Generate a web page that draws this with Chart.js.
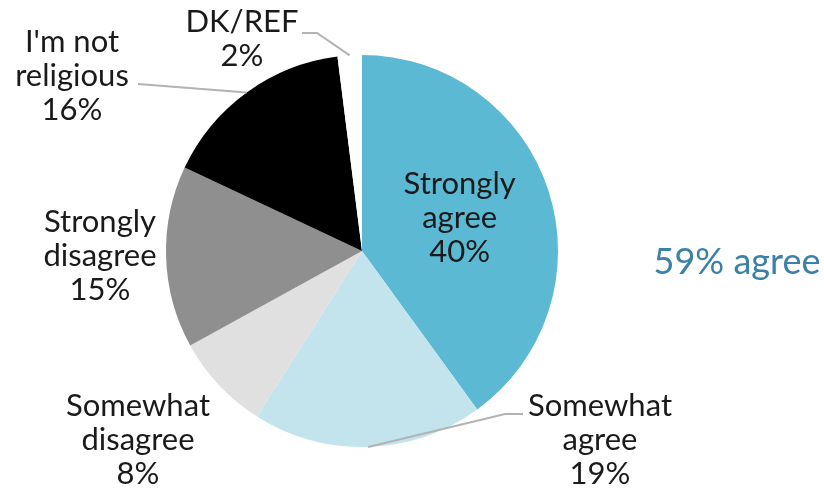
<!DOCTYPE html>
<html>
<head>
<meta charset="utf-8">
<script src="https://cdn.jsdelivr.net/npm/chart.js@4"></script>
<style>
  html, body { margin: 0; padding: 0; background: #fff; }
  #wrap { width: 824px; height: 492px; position: relative; }
</style>
</head>
<body>
<div id="wrap"><canvas id="c" width="824" height="492"></canvas></div>
<script>
const categories = ["Strongly agree", "Somewhat agree", "Somewhat disagree", "Strongly disagree", "I'm not religious", "DK/REF"];
const labelLines = [["Strongly", "agree"], ["Somewhat", "agree"], ["Somewhat", "disagree"], ["Strongly", "disagree"], ["I'm not", "religious"], ["DK/REF"]];
const values = [40, 19, 8, 15, 16, 2];
const summaryText = "59% agree";

const colors = ["#5bb9d3", "#c3e4ed", "#e0e0e0", "#8f8f8f", "#000000", "#ffffff"];

// label placement (block centre relative to pie centre) and leader lines
const labelLayout = [
  { inside: true, rf: 0.54, shift: -3 },
  { dx: 238, dy: 189, knee: [143, 163], end: [161, 163] },
  { dx: -224, dy: 189 },
  { dx: -262, dy: 5 },
  { dx: -290, dy: -175, knee: null, end: [-224, -167] },
  { dx: -120, dy: -212, knee: [-45, -218], end: [-60, -218] }
];

const labelPlugin = {
  id: 'pieLabels',
  afterDatasetsDraw(chart) {
    const ctx = chart.ctx;
    const meta = chart.getDatasetMeta(0);
    const ds = chart.data.datasets[0];
    ctx.save();
    ctx.font = '31px Lato, "Open Sans", sans-serif';
    ctx.textAlign = 'center';
    ctx.textBaseline = 'middle';
    const lh = 34;
    meta.data.forEach((arc, i) => {
      const p = arc.getProps(['x', 'y', 'startAngle', 'endAngle', 'outerRadius'], true);
      const mid = (p.startAngle + p.endAngle) / 2;
      const L = labelLayout[i];
      let cx, cy;
      if (L.inside) {
        cx = p.x + Math.cos(mid) * p.outerRadius * L.rf + (L.shift || 0);
        cy = p.y + Math.sin(mid) * p.outerRadius * L.rf;
      } else {
        cx = p.x + L.dx;
        cy = p.y + L.dy;
        if (L.end) {
          const ex = p.x + Math.cos(mid) * p.outerRadius;
          const ey = p.y + Math.sin(mid) * p.outerRadius;
          ctx.strokeStyle = '#b3b3b3';
          ctx.lineWidth = 2;
          ctx.beginPath();
          ctx.moveTo(ex, ey);
          if (L.knee) ctx.lineTo(p.x + L.knee[0], p.y + L.knee[1]);
          ctx.lineTo(p.x + L.end[0], p.y + L.end[1]);
          ctx.stroke();
        }
      }
      const lines = labelLines[i].concat([ds.data[i] + '%']);
      const h = (lines.length - 1) * lh;
      ctx.fillStyle = '#1a1a1a';
      lines.forEach((t, k) => {
        ctx.fillText(t, cx, cy - h / 2 + k * lh);
      });
    });
    // summary text
    const a = meta.data[0].getProps(['x', 'y', 'outerRadius'], true);
    ctx.font = '36px Lato, "Open Sans", sans-serif';
    ctx.fillStyle = '#3b80a6';
    ctx.fillText(summaryText, a.x + 375, a.y + 11);
    ctx.restore();
  }
};

new Chart(document.getElementById('c'), {
  type: 'pie',
  data: {
    labels: categories,
    datasets: [{
      data: values,
      backgroundColor: colors,
      borderWidth: 0
    }]
  },
  options: {
    responsive: false,
    animation: false,
    layout: { padding: { left: 0, right: 100, top: 55, bottom: 45 } },
    plugins: { legend: { display: false }, tooltip: { enabled: false } }
  },
  plugins: [labelPlugin]
});
</script>
</body>
</html>
